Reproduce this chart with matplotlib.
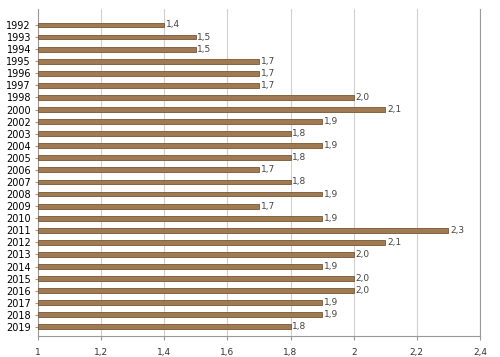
import matplotlib.pyplot as plt
import numpy as np

years = ["1992", "1993", "1994", "1995", "1996", "1997", "1998", "2000", "2002",
         "2003", "2004", "2005", "2006", "2007", "2008", "2009", "2010", "2011",
         "2012", "2013", "2014", "2015", "2016", "2017", "2018", "2019"]
values = [1.4, 1.5, 1.5, 1.7, 1.7, 1.7, 2.0, 2.1, 1.9,
          1.8, 1.9, 1.8, 1.7, 1.8, 1.9, 1.7, 1.9, 2.3,
          2.1, 2.0, 1.9, 2.0, 2.0, 1.9, 1.9, 1.8]
xticks = [1, 1.2, 1.4, 1.6, 1.8, 2, 2.2, 2.4]
xticklabels = ["1", "1,2", "1,4", "1,6", "1,8", "2", "2,2", "2,4"]

fig = plt.figure(figsize=(5, 3.57), dpi=100)
ax = fig.add_axes([0.076, 0.059, 0.884, 0.916])

pos = np.arange(len(years))
ax.barh(pos, np.array(values) - 1, left=1, height=0.4,
        color="#a07a52", edgecolor="#7a5634", linewidth=0.6, zorder=3)

for p, v in zip(pos, values):
    ax.text(v + 0.005, p, f"{v:.1f}".replace(".", ","), va="center", ha="left",
            fontsize=6.5, color="#444444", zorder=4)

ax.set_xlim(1, 2.4)
ax.set_ylim(25.75, -1.33)
ax.set_xticks(xticks)
ax.set_xticklabels(xticklabels, fontsize=6.5, color="#333333")
ax.set_yticks(pos)
ax.set_yticklabels(years, fontsize=7, color="black")

ax.grid(axis="x", color="#d0d0d0", linewidth=0.8, zorder=0)
ax.spines["top"].set_visible(False)
for s in ["left", "bottom", "right"]:
    ax.spines[s].set_color("#999999")
    ax.spines[s].set_linewidth(0.8)
ax.tick_params(axis="x", length=3, color="#999999", pad=6)
ax.tick_params(axis="y", length=2, color="#999999", pad=3)

fig.savefig("out.png", dpi=100)
